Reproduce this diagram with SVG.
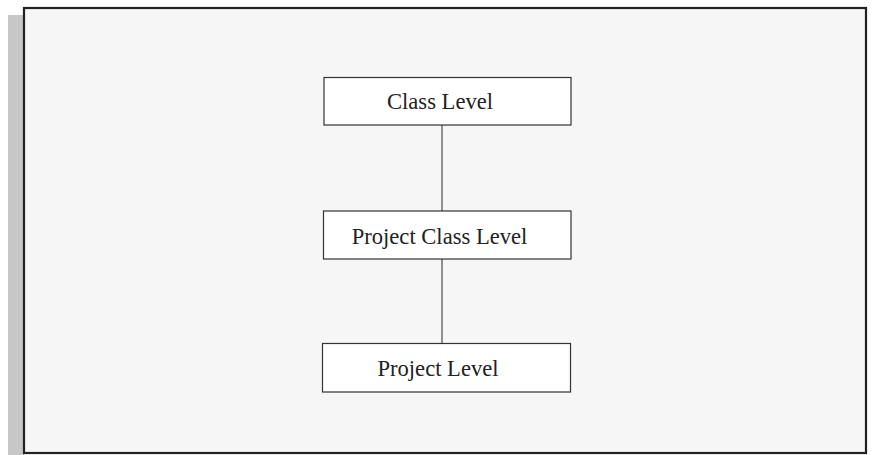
<svg xmlns="http://www.w3.org/2000/svg" width="873" height="455" viewBox="0 0 873 455">
<style>
.node rect{fill:#ffffff;stroke:#333333;stroke-width:1.2}
.node text{font-family:"Liberation Serif","Times New Roman",serif;font-size:22.6px;fill:#222222;text-anchor:middle}
.conn line{stroke:#555555;stroke-width:1.3}
</style>
<rect x="8" y="15" width="16" height="440" fill="#c6c7c9"/>
<rect x="24" y="8" width="842" height="445" fill="#f6f6f6" stroke="#222222" stroke-width="2.2"/>
<g id="connectors" class="conn">
<line x1="442" y1="125" x2="442" y2="211"/>
<line x1="442" y1="259" x2="442" y2="343"/>
</g>
<g id="class-level" class="node">
<rect x="324" y="77.5" width="247" height="47.5"/>
<text x="440" y="109">Class Level</text>
</g>
<g id="project-class-level" class="node">
<rect x="323.5" y="211" width="247.5" height="48"/>
<text x="439.5" y="243.5">Project Class Level</text>
</g>
<g id="project-level" class="node">
<rect x="322.5" y="343.5" width="248" height="48.5"/>
<text x="438" y="376">Project Level</text>
</g>
</svg>
